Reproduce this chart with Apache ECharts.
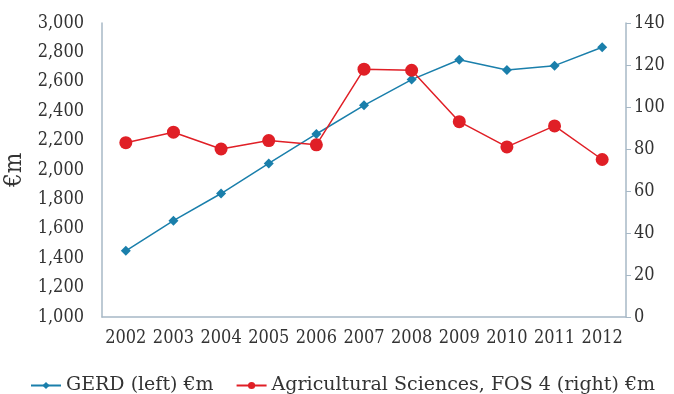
<!DOCTYPE html>
<html>
<head>
<meta charset="utf-8">
<script src="https://cdn.jsdelivr.net/npm/echarts@6/dist/echarts.min.js"></script>
<style>
  html, body { margin: 0; padding: 0; background: #fff; }
  #chart { width: 674px; height: 394px; }
</style>
</head>
<body>
<div id="chart"></div>
<script>
// Years on the category axis
const years = ['2002', '2003', '2004', '2005', '2006', '2007', '2008', '2009', '2010', '2011', '2012'];
// Gross expenditure on R&D (left axis, €m)
const gerd = [1450, 1655, 1840, 2045, 2245, 2440, 2615, 2750, 2680, 2710, 2835];
// Agricultural Sciences, FOS 4 (right axis, €m)
const agri = [83, 88, 80, 84, 82, 118, 117.5, 93, 81, 91, 75];

const FONT = '"DejaVu Serif Condensed", "DejaVu Serif", serif';
const LEGEND_FONT = '"DejaVu Serif", serif';
const TEXT = '#333333';
const AXIS = '#a7b8c6';
const BLUE = '#1a7fab';
const RED = '#e01f26';

const chart = echarts.init(document.getElementById('chart'), null, { renderer: 'canvas' });
chart.setOption({
  animation: false,
  textStyle: { fontFamily: FONT, color: TEXT },
  grid: { left: 102, right: 48, top: 23, bottom: 77, containLabel: false, outerBoundsMode: 'none' },
  legend: {
    left: 25,
    top: 371,
    itemWidth: 30,
    itemHeight: 9,
    itemGap: 22,
    textStyle: { fontFamily: LEGEND_FONT, fontSize: 19, color: TEXT },
    data: ['GERD (left) €m', 'Agricultural Sciences, FOS 4 (right) €m']
  },
  xAxis: {
    type: 'category',
    data: years,
    boundaryGap: true,
    axisLine: { lineStyle: { color: AXIS, width: 1.5 } },
    axisTick: { alignWithLabel: true, interval: 0, length: 8, lineStyle: { color: AXIS } },
    axisLabel: { interval: 0, hideOverlap: false, fontFamily: FONT, fontSize: 18, color: TEXT, margin: 12 }
  },
  yAxis: [
    {
      type: 'value',
      min: 1000,
      max: 3000,
      interval: 200,
      name: '€m',
      nameLocation: 'middle',
      nameGap: 68,
      nameTextStyle: { fontFamily: FONT, fontSize: 24, color: TEXT },
      axisLine: { show: true, lineStyle: { color: AXIS, width: 1.5 } },
      axisTick: { show: false },
      splitLine: { show: false },
      axisLabel: {
        fontFamily: FONT, fontSize: 18, color: TEXT, margin: 18,
        formatter: v => v.toLocaleString('en-US')
      }
    },
    {
      type: 'value',
      min: 0,
      max: 140,
      interval: 20,
      position: 'right',
      axisLine: { show: true, lineStyle: { color: AXIS, width: 1.5 } },
      axisTick: { show: true, length: 5, lineStyle: { color: AXIS } },
      splitLine: { show: false },
      axisLabel: { fontFamily: FONT, fontSize: 18, color: TEXT, margin: 8 }
    }
  ],
  series: [
    {
      name: 'GERD (left) €m',
      type: 'line',
      yAxisIndex: 0,
      data: gerd,
      symbol: 'diamond',
      symbolSize: 10,
      itemStyle: { color: BLUE },
      lineStyle: { color: BLUE, width: 1.5 }
    },
    {
      name: 'Agricultural Sciences, FOS 4 (right) €m',
      type: 'line',
      yAxisIndex: 1,
      data: agri,
      symbol: 'circle',
      symbolSize: 13,
      itemStyle: { color: RED },
      lineStyle: { color: RED, width: 1.5 }
    }
  ]
});
</script>
</body>
</html>
